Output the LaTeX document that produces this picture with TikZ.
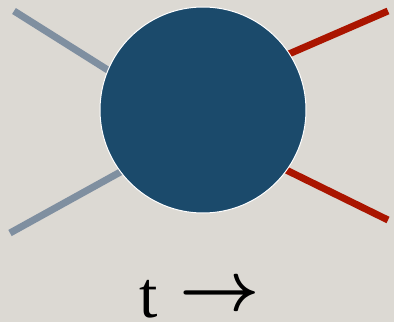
\documentclass[tikz,border=0pt]{standalone}
\usepackage{amsmath}
\usepackage{graphicx}
\usepackage{fontspec}
\setmainfont{Liberation Serif}
\definecolor{BgClr}{HTML}{DCD9D3}
\definecolor{BlobClr}{HTML}{1B4A6B}
\definecolor{InClr}{HTML}{7F8FA0}
\definecolor{OutClr}{HTML}{AA1500}

\begin{document}
\begin{tikzpicture}[x=1pt,y=-1pt]
\tikzset{leg/.style={line width=7pt},
  blobnode/.style={circle,fill=BlobClr,draw=white,line width=1pt,minimum size=206pt,inner sep=0pt}}

\fill[BgClr] (0,0) rectangle (394,322);
\useasboundingbox (0,0) rectangle (394,322);

% ends of the legs
\coordinate (in1) at (14,11);
\coordinate (in2) at (10,233);
\coordinate (out1) at (388,11);
\coordinate (out2) at (388,220);
\coordinate (vtxL) at (200,128);
\coordinate (vtxR) at (162,109);

\draw[leg,InClr] (in1) -- (vtxL);
\draw[leg,InClr] (in2) -- (vtxL);
\draw[leg,OutClr] (out1) -- (vtxR);
\draw[leg,OutClr] (out2) -- (vtxR);

\node[blobnode] (blob) at (203,110) {};

\node[anchor=base west,font=\fontsize{66}{66}\selectfont,inner sep=0pt,text depth=0pt] (time) at (139,317)
  {t\hspace{22pt}\raisebox{6.5pt}{\scalebox{7}{\fontsize{10}{10}\selectfont$\boldsymbol{\rightarrow}$}}};

\end{tikzpicture}
\end{document}
